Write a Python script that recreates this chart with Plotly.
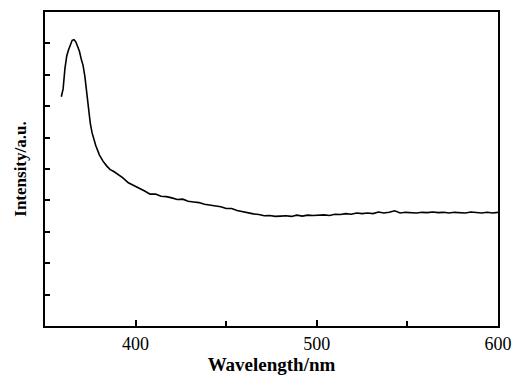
import plotly.graph_objects as go

wavelength = [359, 360, 361, 362, 363, 364, 365, 366, 367, 368, 369, 370, 371, 372, 373, 374, 375, 376,
              378, 380, 382, 384, 386, 388, 390, 393, 396, 399, 402, 405, 408, 411, 414, 417, 420, 423,
              426, 429, 432, 435, 438, 441, 444, 447, 450, 453, 456, 459, 462, 465, 468, 471, 474, 477,
              480, 483, 486, 489, 492, 495, 498, 501, 504, 507, 510, 513, 516, 519, 522, 525, 528, 531,
              534, 537, 540, 543, 546, 549, 552, 555, 558, 561, 564, 567, 570, 573, 576, 579, 582, 585,
              588, 591, 594, 597, 600]
intensity = [7.3, 7.55, 8.2, 8.6, 8.8, 8.95, 9.1, 9.12, 9.05, 8.9, 8.75, 8.5, 8.3, 7.95, 7.45, 6.85, 6.45, 6.15,
             5.75, 5.45, 5.25, 5.1, 4.98, 4.92, 4.85, 4.72, 4.56, 4.48, 4.38, 4.3, 4.2, 4.2, 4.13, 4.12, 4.08, 4.03,
             4.04, 3.97, 3.95, 3.93, 3.88, 3.86, 3.82, 3.8, 3.74, 3.74, 3.68, 3.64, 3.6, 3.57, 3.55, 3.51, 3.52, 3.49,
             3.5, 3.51, 3.49, 3.53, 3.5, 3.53, 3.52, 3.53, 3.54, 3.52, 3.56, 3.55, 3.58, 3.56, 3.6, 3.58, 3.6, 3.58,
             3.63, 3.6, 3.62, 3.67, 3.6, 3.62, 3.61, 3.6, 3.62, 3.61, 3.63, 3.61, 3.62, 3.6, 3.62, 3.61, 3.6, 3.63,
             3.61, 3.6, 3.62, 3.6, 3.62]

x_ticks = [400, 500, 600]
y_ticks = [1, 2, 3, 4, 5, 6, 7, 8, 9]

fig = go.Figure()
fig.add_trace(go.Scatter(x=wavelength, y=intensity, mode="lines",
                         line=dict(color="black", width=1.6), showlegend=False))

fig.update_layout(
    width=512, height=381,
    margin=dict(l=45, r=14, t=12, b=55),
    paper_bgcolor="white", plot_bgcolor="white",
    font=dict(family="Liberation Serif, Times New Roman, serif", color="black"),
)
fig.update_xaxes(
    automargin=False, ticklabeloverflow="allow",
    range=[350, 600], tickvals=x_ticks, ticks="inside", ticklen=6, tickwidth=1.5,
    tickcolor="black", tickfont=dict(size=18),
    showline=True, linecolor="black", linewidth=2, mirror=True, showgrid=False, zeroline=False,
    minor=dict(tickvals=[450, 550], ticks="inside", ticklen=5, tickwidth=1.5, tickcolor="black"),
    title=dict(text="<b>Wavelength/nm</b>", font=dict(size=19), standoff=5),
)
fig.update_yaxes(
    automargin=False,
    range=[0, 10], tickvals=y_ticks, ticks="inside", ticklen=5, tickwidth=1.5,
    tickcolor="black", showticklabels=False,
    showline=True, linecolor="black", linewidth=2, mirror=True, showgrid=False, zeroline=False,
    title=dict(text="<b>Intensity/a.u.</b>", font=dict(size=17), standoff=12),
)

fig.write_html("out.html", config={"displayModeBar": False},
               post_script="document.body.style.margin='0';document.body.style.overflow='hidden';")
